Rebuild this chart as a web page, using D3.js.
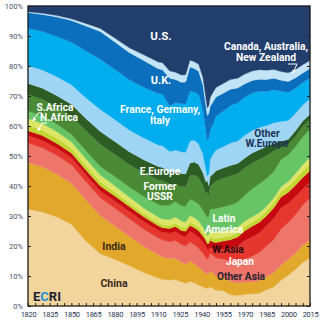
<!DOCTYPE html>
<html>
<head>
<meta charset="utf-8">
<script src="https://cdn.jsdelivr.net/npm/d3@7"></script>
<style>
  body { margin: 0; background: #fff; }
  text { font-family: Roboto, "Open Sans", sans-serif; }
</style>
</head>
<body>
<script>
// Shares of world GDP (%), by region, 1820-2015
var years = [1820, 1830, 1840, 1850, 1860, 1870, 1880, 1890, 1900, 1910, 1913, 1918, 1922, 1926, 1929,
    1932, 1935, 1938, 1941, 1943, 1944, 1945, 1946, 1948, 1950, 1955, 1960, 1965, 1970, 1975,
    1980, 1985, 1990, 1995, 2000, 2005, 2010, 2015];

var china = [32.3, 31.3, 29.8, 27.5, 21.5, 17.0, 15.3, 13.5, 11.3, 9.5, 9.0, 8.6, 8.6, 8.0, 7.6,
    8.4, 7.9, 7.2, 6.6, 6.2, 5.9, 6.0, 6.2, 5.8, 5.3, 5.2, 3.8, 3.6, 4.0, 4.2,
    4.4, 5.6, 6.6, 8.8, 10.6, 12.6, 14.8, 16.2];
var india = [15.5, 15.0, 14.3, 13.8, 13.6, 12.3, 11.0, 9.9, 8.9, 7.9, 7.6, 7.0, 6.9, 6.6, 6.4,
    7.0, 6.6, 6.1, 5.6, 5.0, 4.8, 4.9, 5.2, 5.0, 4.8, 4.6, 4.6, 4.3, 4.3, 4.2,
    4.3, 4.6, 5.0, 5.2, 5.4, 5.6, 5.9, 6.1];
var otherAsia = [6.5, 6.4, 6.3, 6.2, 6.0, 5.8, 5.8, 5.8, 5.7, 5.7, 5.7, 5.6, 5.8, 5.9, 6.0,
    6.5, 6.4, 6.4, 6.0, 5.4, 5.0, 5.2, 5.6, 5.8, 6.0, 6.3, 6.8, 7.2, 7.8, 8.8,
    9.8, 10.6, 11.4, 12.4, 12.8, 13.2, 13.6, 14.0];
var japan = [2.5, 2.5, 2.4, 2.4, 2.3, 2.3, 2.4, 2.5, 2.6, 2.6, 2.6, 2.9, 2.9, 3.0, 3.2,
    3.6, 3.7, 3.9, 4.0, 3.8, 3.4, 2.5, 1.9, 2.1, 2.8, 3.4, 4.4, 5.5, 6.6, 6.7,
    6.8, 7.0, 7.5, 7.3, 6.6, 6.2, 5.6, 5.3];
var wAsia = [1.6, 1.6, 1.6, 1.6, 1.6, 1.6, 1.6, 1.6, 1.6, 1.6, 1.6, 1.5, 1.6, 1.7, 1.8,
    2.0, 2.1, 2.2, 2.2, 2.0, 1.9, 2.1, 2.3, 2.4, 2.5, 2.7, 2.9, 3.1, 3.3, 3.7,
    3.6, 3.5, 3.6, 3.7, 3.8, 3.9, 3.9, 3.9];
var nAfrica = [1.9, 1.8, 1.7, 1.6, 1.5, 1.4, 1.3, 1.2, 1.1, 1.0, 1.0, 1.0, 1.1, 1.1, 1.1,
    1.2, 1.2, 1.2, 1.1, 1.0, 1.0, 1.1, 1.2, 1.3, 1.3, 1.3, 1.3, 1.3, 1.4, 1.5,
    1.6, 1.7, 1.8, 1.9, 2.0, 2.1, 2.2, 2.2];
var sAfrica = [2.2, 2.2, 2.2, 2.2, 2.2, 2.2, 2.1, 2.0, 1.9, 1.9, 1.9, 1.9, 2.0, 2.0, 2.0,
    2.2, 2.2, 2.1, 2.0, 1.8, 1.8, 1.9, 2.1, 2.2, 2.3, 2.2, 2.1, 2.0, 1.9, 1.8,
    1.7, 1.6, 1.6, 1.6, 1.7, 1.9, 2.1, 2.3];
var latAm = [2.5, 2.5, 2.5, 2.5, 2.6, 2.7, 3.0, 3.4, 3.9, 4.3, 4.5, 4.8, 5.0, 5.1, 5.3,
    5.6, 5.6, 5.8, 6.0, 5.8, 6.2, 6.0, 6.8, 7.4, 7.8, 8.2, 8.4, 8.6, 9.0, 9.6,
    10.0, 9.6, 9.2, 9.3, 9.2, 9.2, 9.5, 9.4];
var ussr = [5.5, 5.6, 5.8, 6.2, 6.7, 7.3, 7.3, 7.5, 8.0, 8.4, 8.5, 7.0, 5.5, 6.5, 6.5,
    8.0, 9.0, 9.2, 8.5, 7.5, 8.5, 7.0, 7.5, 8.3, 9.4, 9.8, 10.0, 9.8, 9.4, 9.0,
    8.5, 8.0, 7.2, 4.3, 3.5, 3.6, 3.6, 3.4];
var eEurope = [3.7, 3.7, 3.8, 3.9, 4.0, 4.1, 4.2, 4.3, 4.4, 4.5, 4.5, 4.0, 4.2, 4.3, 4.3,
    4.4, 4.4, 4.4, 4.4, 4.0, 4.0, 3.0, 3.0, 3.3, 3.5, 3.5, 3.5, 3.5, 3.4, 3.4,
    3.3, 3.1, 2.6, 2.0, 1.9, 1.9, 1.8, 1.7];
var otherWEurope = [5.9, 6.1, 6.3, 6.6, 6.9, 7.2, 7.2, 7.3, 7.3, 7.3, 7.3, 6.8, 7.0, 7.2, 7.2,
    7.5, 7.4, 7.1, 6.5, 4.5, 1.5, 4.0, 5.5, 6.5, 7.0, 7.3, 7.6, 7.7, 7.8, 7.8,
    7.6, 7.3, 7.1, 6.8, 6.4, 6.0, 5.5, 5.2];
var fgi = [12.5, 12.8, 13.5, 14.3, 15.5, 16.3, 16.5, 16.8, 17.2, 17.5, 17.5, 15.0, 15.5, 16.0, 16.3,
    17.0, 16.5, 17.0, 15.5, 13.0, 12.0, 12.0, 9.5, 10.0, 11.4, 12.2, 12.8, 13.0, 13.2, 13.0,
    12.6, 11.8, 11.4, 10.4, 9.8, 8.6, 7.6, 7.0];
var uk = [5.2, 5.7, 6.5, 7.3, 8.2, 9.0, 9.0, 9.1, 9.0, 8.4, 8.2, 9.2, 7.4, 7.2, 7.3,
    8.3, 8.0, 7.8, 8.6, 8.6, 8.4, 8.0, 7.6, 7.3, 6.5, 6.1, 5.5, 5.2, 4.6, 4.3,
    4.1, 4.1, 4.0, 3.7, 3.7, 3.6, 3.3, 3.2];
var canAusNz = [0.3, 0.4, 0.5, 0.6, 0.8, 1.0, 1.3, 1.6, 1.9, 2.3, 2.4, 2.4, 2.4, 2.4, 2.5,
    2.3, 2.3, 2.4, 2.6, 2.6, 2.5, 2.6, 2.8, 3.1, 3.2, 3.3, 3.3, 3.3, 3.3, 3.3,
    3.3, 3.2, 3.1, 3.0, 3.0, 2.9, 2.8, 2.7];
var us = [1.9, 2.4, 3.2, 4.3, 5.8, 7.3, 10.5, 14.0, 16.5, 19.0, 19.2, 21.5, 21.5, 23.0, 23.0,
    18.5, 19.0, 20.0, 25.0, 31.5, 34.5, 33.0, 29.5, 28.5, 27.5, 26.5, 25.0, 24.8, 23.5, 22.5,
    22.0, 22.3, 22.0, 22.5, 23.0, 21.8, 20.0, 18.3];

var xTickYears = d3.range(1820, 2016, 15);
var yTicks = d3.range(0, 1.01, 0.1);

// series, bottom to top
var keys = ["china", "india", "otherAsia", "japan", "wAsia", "nAfrica", "sAfrica", "latAm",
    "ussr", "eEurope", "otherWEurope", "fgi", "uk", "canAusNz", "us"];
var seriesValues = {
    china: china, india: india, otherAsia: otherAsia, japan: japan, wAsia: wAsia,
    nAfrica: nAfrica, sAfrica: sAfrica, latAm: latAm, ussr: ussr, eEurope: eEurope,
    otherWEurope: otherWEurope, fgi: fgi, uk: uk, canAusNz: canAusNz, us: us
};
var colors = {
    china: "#f1d59c", india: "#e2a82b", otherAsia: "#ee756a", japan: "#e5372e", wAsia: "#c5090e",
    nAfrica: "#c3d530", sAfrica: "#dbe566", latAm: "#68c566", ussr: "#4a8a35", eEurope: "#2d5c24",
    otherWEurope: "#9fd5f4", fgi: "#00adee", uk: "#0b6fbe", canAusNz: "#c2e4f6", us: "#213e6d"
};

/* Step 1: workspace */
var svgWidth = 321, svgHeight = 321;
var margin = { top: 6, right: 11, bottom: 15, left: 28 };
var width = svgWidth - margin.left - margin.right;
var height = svgHeight - margin.top - margin.bottom;

var svg = d3.select("body").append("svg")
    .attr("width", svgWidth)
    .attr("height", svgHeight);

var chartGroup = svg.append("g")
    .attr("transform", `translate(${margin.left}, ${margin.top})`);

/* Step 2: table + stack */
var table = years.map(function (yr, i) {
    var row = { year: yr };
    keys.forEach(k => row[k] = seriesValues[k][i]);
    return row;
});

var stacked = d3.stack()
    .keys(keys)
    .offset(d3.stackOffsetExpand)(table);

/* Step 3: scales */
var xScale = d3.scaleLinear().domain([1820, 2015]).range([0, width]);
var yScale = d3.scaleLinear().domain([0, 1]).range([height, 0]);

var area = d3.area()
    .x(d => xScale(d.data.year))
    .y0(d => yScale(d[0]))
    .y1(d => yScale(d[1]));

chartGroup.selectAll(".layer")
    .data(stacked)
    .enter().append("path")
    .attr("class", "layer")
    .attr("fill", d => colors[d.key])
    .attr("stroke", d => colors[d.key])
    .attr("stroke-width", 0.3)
    .attr("d", area);

/* Step 4: axes and frame */
var bottomAxis = d3.axisBottom(xScale)
    .tickValues(d3.range(1820, 2016, 5))
    .tickSizeInner(-3).tickSizeOuter(0)
    .tickFormat(d => xTickYears.indexOf(d) >= 0 ? d : "");
var xAxisG = chartGroup.append("g")
    .attr("transform", `translate(0, ${height})`)
    .call(bottomAxis);
xAxisG.selectAll("text")
    .attr("y", 6)
    .attr("font-size", "7.5px")
    .attr("fill", "#2a3550")
    .attr("font-family", "Roboto, sans-serif")
    .style("letter-spacing", "-0.3px");

var leftAxis = d3.axisLeft(yScale)
    .tickValues(yTicks)
    .tickSizeInner(-3).tickSizeOuter(0)
    .tickFormat(d3.format(".0%"));
var yAxisG = chartGroup.append("g").call(leftAxis);
yAxisG.selectAll("text")
    .attr("x", -5)
    .attr("font-size", "7.5px")
    .attr("fill", "#4a5266")
    .attr("font-family", "Roboto, sans-serif");

var rightAxis = d3.axisRight(yScale)
    .tickValues(yTicks)
    .tickSizeInner(-3).tickSizeOuter(0)
    .tickFormat("");
chartGroup.append("g")
    .attr("transform", `translate(${width}, 0)`)
    .call(rightAxis);

chartGroup.selectAll(".domain").remove();
chartGroup.selectAll(".tick line").attr("stroke", "#222").attr("stroke-width", 1);

chartGroup.append("rect")
    .attr("width", width)
    .attr("height", height)
    .attr("fill", "none")
    .attr("stroke", "#1e1e1e")
    .attr("stroke-width", 1.3);

/* Step 5: region labels, one text per line */
var labels = [
    { t: "U.S.", x: 161, y: 40, c: "#fff", s: 11.5 },
    { t: "Canada, Australia,", x: 266, y: 49.5, c: "#fff", s: 10.3 },
    { t: "New Zealand", x: 266, y: 61, c: "#fff", s: 10.3 },
    { t: "U.K.", x: 161, y: 84, c: "#fff", s: 11 },
    { t: "France, Germany,", x: 160, y: 112.5, c: "#fff", s: 10.3 },
    { t: "Italy", x: 160, y: 124, c: "#fff", s: 10.3 },
    { t: "Other", x: 267, y: 136.5, c: "#1d3357", s: 10.2 },
    { t: "W.Europe", x: 267, y: 147, c: "#1d3357", s: 10.2 },
    { t: "S.Africa", x: 55, y: 110.5, c: "#fff", s: 10.2 },
    { t: "N.Africa", x: 59, y: 121, c: "#fff", s: 10.2 },
    { t: "E.Europe", x: 160, y: 175, c: "#fff", s: 10.2 },
    { t: "Former", x: 160, y: 189.5, c: "#fff", s: 10.2 },
    { t: "USSR", x: 160, y: 200, c: "#fff", s: 10.2 },
    { t: "Latin", x: 224, y: 222, c: "#fff", s: 10.2 },
    { t: "America", x: 224, y: 232.5, c: "#fff", s: 10.2 },
    { t: "W.Asia", x: 228, y: 253, c: "#2a0b10", s: 10.2 },
    { t: "Japan", x: 240, y: 265, c: "#fff", s: 10.2 },
    { t: "Other Asia", x: 241, y: 280, c: "#2b2430", s: 10.2 },
    { t: "India", x: 114, y: 250, c: "#3a2a1a", s: 10.5 },
    { t: "China", x: 114, y: 287, c: "#3a2a1a", s: 10.5 }
];

svg.selectAll(".region-label")
    .data(labels)
    .enter().append("text")
    .attr("class", "region-label")
    .attr("x", d => d.x)
    .attr("y", d => d.y)
    .attr("text-anchor", "middle")
    .attr("font-size", d => d.s + "px")
    .attr("font-weight", 700)
    .attr("fill", d => d.c)
    .text(d => d.t);

// pointer arrows for the thin bands
svg.append("defs").append("marker")
    .attr("id", "head")
    .attr("viewBox", "0 0 6 6")
    .attr("refX", 5).attr("refY", 3)
    .attr("markerWidth", 4).attr("markerHeight", 4)
    .attr("orient", "auto")
    .append("path")
    .attr("d", "M0,0L6,3L0,6Z")
    .attr("fill", "#fff");

var pointers = [
    [[42, 113], [38, 113], [33, 121]],
    [[47, 123], [42, 123], [38, 131]],
    [[288, 64], [297, 64], [293, 73]]
];
var line = d3.line();
svg.selectAll(".pointer")
    .data(pointers)
    .enter().append("path")
    .attr("class", "pointer")
    .attr("d", line)
    .attr("fill", "none")
    .attr("stroke", "#fff")
    .attr("stroke-width", 1)
    .attr("marker-end", "url(#head)");

// ECRI mark
var logo = svg.append("text")
    .attr("x", 33)
    .attr("y", 301)
    .attr("font-size", "13px")
    .attr("font-weight", 700)
    .attr("fill", "#1c2233");
logo.append("tspan").text("E");
logo.append("tspan").attr("fill", "#1b8fd6").text("C");
logo.append("tspan").text("RI");
</script>
</body>
</html>
